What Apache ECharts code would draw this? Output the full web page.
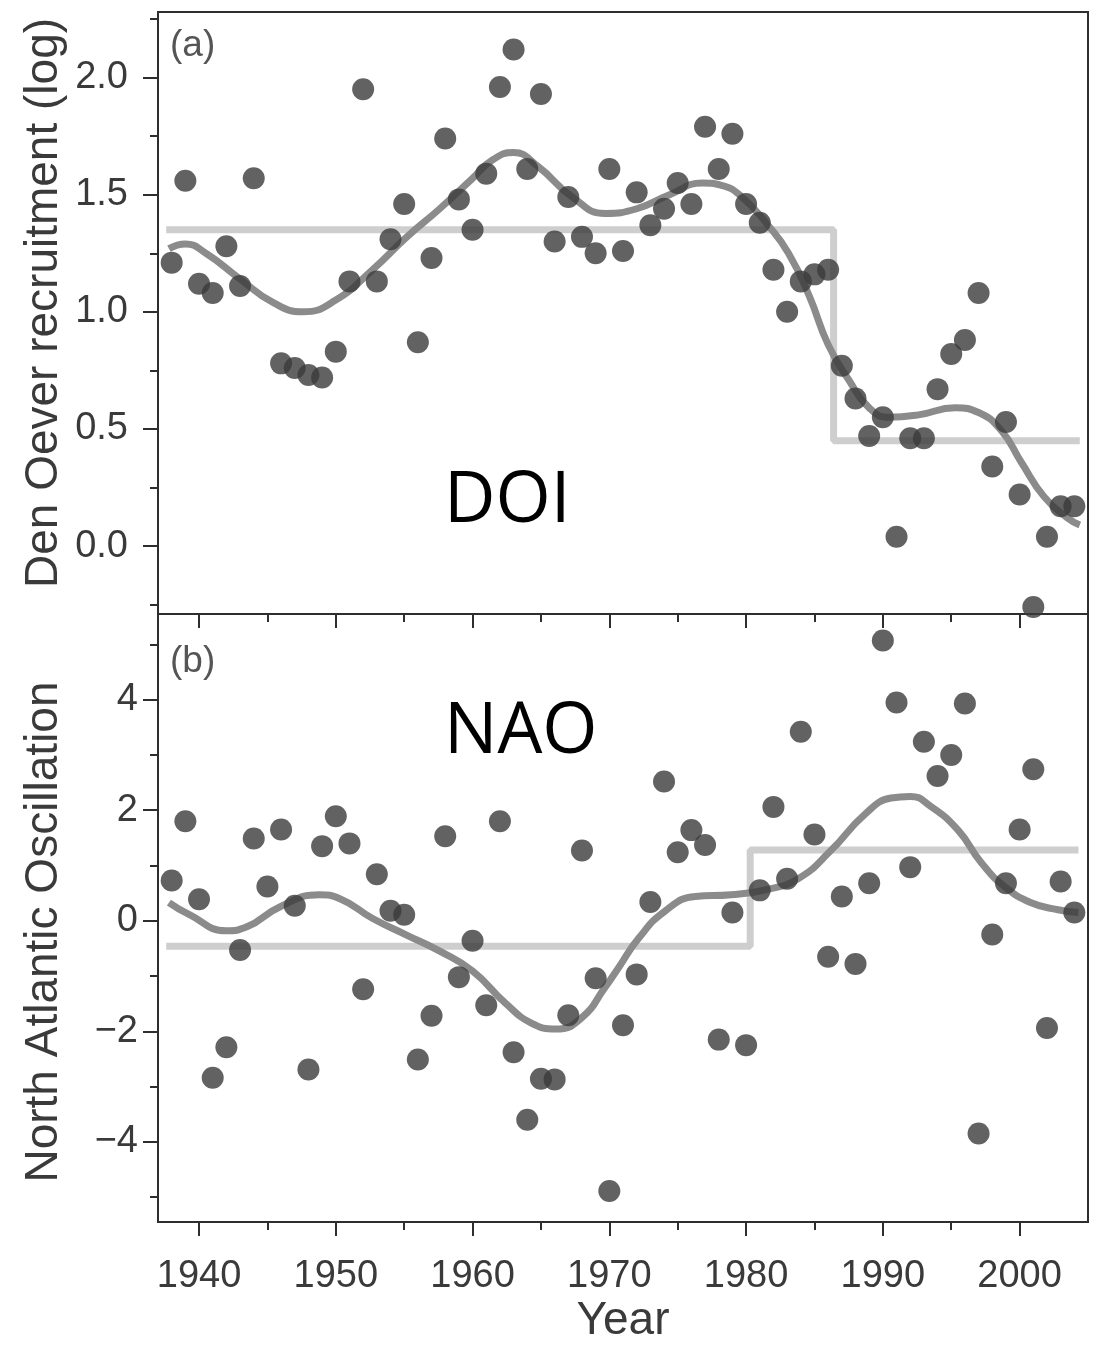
<!DOCTYPE html>
<html>
<head>
<meta charset="utf-8">
<script src="https://cdn.jsdelivr.net/npm/echarts@6/dist/echarts.min.js"></script>
<style>
html, body { margin: 0; padding: 0; background: #ffffff; }
#chart { width: 1104px; height: 1345px; }
</style>
</head>
<body>
<div id="chart"></div>
<script>
// ---------- data ----------
const years = [1938,1939,1940,1941,1942,1943,1944,1945,1946,1947,1948,1949,1950,1951,1952,1953,1954,1955,1956,1957,1958,1959,1960,1961,1962,1963,1964,1965,1966,1967,1968,1969,1970,1971,1972,1973,1974,1975,1976,1977,1978,1979,1980,1981,1982,1983,1984,1985,1986,1987,1988,1989,1990,1991,1992,1993,1994,1995,1996,1997,1998,1999,2000,2001,2002,2003,2004];

const doiRecruitment = [1.21,1.56,1.12,1.08,1.28,1.11,1.57,null,0.78,0.76,0.73,0.72,0.83,1.13,1.95,1.13,1.31,1.46,0.87,1.23,1.74,1.48,1.35,1.59,1.96,2.12,1.61,1.93,1.30,1.49,1.32,1.25,1.61,1.26,1.51,1.37,1.44,1.55,1.46,1.79,1.61,1.76,1.46,1.38,1.18,1.00,1.13,1.16,1.18,0.77,0.63,0.47,0.55,0.04,0.46,0.46,0.67,0.82,0.88,1.08,0.34,0.53,0.22,-0.26,0.04,0.17,0.17];

const naoIndex = [0.73,1.80,0.39,-2.84,-2.29,-0.53,1.49,0.62,1.65,0.27,-2.69,1.35,1.89,1.40,-1.24,0.84,0.18,0.11,-2.51,-1.72,1.53,-1.02,-0.36,-1.53,1.80,-2.38,-3.60,-2.86,-2.87,-1.71,1.27,-1.04,-4.89,-1.89,-0.97,0.34,2.52,1.24,1.64,1.37,-2.15,0.15,-2.25,0.55,2.06,0.76,3.42,1.56,-0.65,0.44,-0.78,0.68,5.07,3.95,0.97,3.24,2.62,3.00,3.93,-3.85,-0.25,0.68,1.65,2.74,-1.94,0.71,0.15];

// smoothed trend curves
const doiSmoothYears  = [1937.8,1939,1940.5,1943,1945.4,1947.6,1950,1952.7,1955.2,1957.6,1960,1961.5,1963,1964.8,1967.3,1969.7,1972,1974.4,1976.8,1978.2,1979.7,1981.6,1983.1,1984.6,1986,1987.5,1989,1990.4,1992.6,1995.3,1997,1998.7,2000.1,2001.8,2003.5,2004.4];
const doiSmoothValues = [1.27,1.29,1.25,1.14,1.04,1.00,1.05,1.18,1.32,1.44,1.57,1.65,1.68,1.62,1.49,1.42,1.44,1.50,1.55,1.54,1.49,1.37,1.25,1.07,0.86,0.71,0.59,0.55,0.56,0.59,0.57,0.49,0.36,0.21,0.12,0.09];

const naoSmoothYears  = [1937.8,1939.3,1942,1943.5,1945.9,1948.8,1950.3,1952.7,1955.1,1957.6,1960,1962.4,1964.3,1966.1,1968,1969.7,1970.7,1972.1,1974.1,1976.3,1978.9,1981.4,1983.8,1986.2,1988.7,1990.6,1992,1993.5,1995.5,1997.2,1998.9,2000.8,2002.8,2004.3];
const naoSmoothValues = [0.33,0.11,-0.18,-0.11,0.25,0.47,0.40,0.04,-0.25,-0.55,-0.91,-1.49,-1.85,-1.96,-1.75,-1.20,-0.84,-0.33,0.18,0.44,0.47,0.56,0.76,1.27,1.93,2.22,2.25,2.07,1.64,1.05,0.62,0.33,0.20,0.15];

// regime (step) means
const doiStepYears  = [1937.6, 1986.4, 1986.4, 2004.4];
const doiStepValues = [1.35, 1.35, 0.45, 0.45];
const naoStepYears  = [1937.6, 1980.3, 1980.3, 2004.3];
const naoStepValues = [-0.46, -0.46, 1.28, 1.28];

// tick positions / labels
const yearTicks      = [1940, 1950, 1960, 1970, 1980, 1990, 2000];
const yearMinorTicks = [1945, 1955, 1965, 1975, 1985, 1995];
const doiTicks       = [0, 0.5, 1.0, 1.5, 2.0];
const doiMinorTicks  = [-0.25, 0.25, 0.75, 1.25, 1.75, 2.25];
const naoTicks       = [-4, -2, 0, 2, 4];
const naoMinorTicks  = [-5, -3, -1, 1, 3, 5];

// ---------- chart ----------
const pairs = (xs, ys) => xs.map((x, i) => [x, ys[i]]).filter(p => p[1] !== null);

const FONT = 'Liberation Sans, Arial, Helvetica, sans-serif';
const AX = { color: '#2e2e2e', width: 2 };
const TXT = '#3a3a3a';

function xAxes(gridIndex, withLabels) {
  return [
    {
      gridIndex, type: 'value', min: 1937, max: 2005, position: 'bottom',
      axisLine: { show: true, onZero: false, lineStyle: AX },
      axisTick: { show: true, customValues: yearTicks, length: 14, lineStyle: AX },
      axisLabel: { show: withLabels, customValues: yearTicks, formatter: v => String(v), margin: 36, fontSize: 38, fontFamily: FONT, color: TXT },
      splitLine: { show: false },
      name: withLabels ? 'Year' : '', nameLocation: 'middle', nameGap: 76,
      nameTextStyle: { fontSize: 46, fontFamily: FONT, color: TXT }
    },
    {
      gridIndex, type: 'value', min: 1937, max: 2005, position: 'bottom',
      axisLine: { show: false, onZero: false },
      axisTick: { show: true, customValues: yearMinorTicks, length: 8, lineStyle: AX },
      axisLabel: { show: false },
      splitLine: { show: false }
    }
  ];
}

function yAxes(gridIndex, min, max, major, minor, fmt, margin) {
  return [
    {
      gridIndex, type: 'value', min, max, position: 'left',
      axisLine: { show: true, onZero: false, lineStyle: AX },
      axisTick: { show: true, customValues: major, length: 15, lineStyle: AX },
      axisLabel: { show: true, customValues: major, formatter: fmt, margin, fontSize: 38, fontFamily: FONT, color: TXT },
      splitLine: { show: false }
    },
    {
      gridIndex, type: 'value', min, max, position: 'left',
      axisLine: { show: false, onZero: false },
      axisTick: { show: true, customValues: minor, length: 8, lineStyle: AX },
      axisLabel: { show: false },
      splitLine: { show: false }
    }
  ];
}

const minusFmt = v => (v < 0 ? '\u2212' + Math.abs(v) : String(v));

function panelSeries(xi, yi, stepX, stepY, smX, smY, pts) {
  return [
    { type: 'line', xAxisIndex: xi, yAxisIndex: yi, data: pairs(stepX, stepY), showSymbol: false,
      lineStyle: { color: '#cecece', width: 7 }, z: 2, silent: true },
    { type: 'line', xAxisIndex: xi, yAxisIndex: yi, data: pairs(smX, smY), showSymbol: false, smooth: 0.5,
      lineStyle: { color: '#8b8b8b', width: 7 }, z: 3, silent: true },
    { type: 'scatter', xAxisIndex: xi, yAxisIndex: yi, data: pairs(years, pts), symbolSize: 22,
      itemStyle: { color: '#3b3b3b' }, z: 4 }
  ];
}

const option = {
  backgroundColor: '#ffffff',
  animation: false,
  grid: [
    { left: 158, top: 12, width: 930, height: 602, show: true, borderColor: '#2e2e2e', borderWidth: 2, backgroundColor: 'transparent' },
    { left: 158, top: 614, width: 930, height: 608, show: true, borderColor: '#2e2e2e', borderWidth: 2, backgroundColor: 'transparent' }
  ],
  xAxis: [...xAxes(0, false), ...xAxes(1, true)],
  yAxis: [
    ...yAxes(0, -0.29, 2.28, doiTicks, doiMinorTicks, v => v.toFixed(1), 30),
    ...yAxes(1, -5.45, 5.55, naoTicks, naoMinorTicks, minusFmt, 20)
  ],
  series: [
    ...panelSeries(0, 0, doiStepYears, doiStepValues, doiSmoothYears, doiSmoothValues, doiRecruitment),
    ...panelSeries(2, 2, naoStepYears, naoStepValues, naoSmoothYears, naoSmoothValues, naoIndex)
  ],
  graphic: [
    { type: 'text', x: 44, y: 303, rotation: Math.PI / 2,
      style: { text: 'Den Oever recruitment (log)', fontSize: 46, fontFamily: FONT, fill: TXT, align: 'center', verticalAlign: 'middle' } },
    { type: 'text', x: 44, y: 932, rotation: Math.PI / 2,
      style: { text: 'North Atlantic Oscillation', fontSize: 46, fontFamily: FONT, fill: TXT, align: 'center', verticalAlign: 'middle' } },
    { type: 'text', x: 170, y: 46,
      style: { text: '(a)', fontSize: 37, fontFamily: FONT, fill: '#555555', align: 'left', verticalAlign: 'middle' } },
    { type: 'text', x: 170, y: 662,
      style: { text: '(b)', fontSize: 37, fontFamily: FONT, fill: '#555555', align: 'left', verticalAlign: 'middle' } },
    { type: 'text', x: 444, y: 502,
      style: { text: 'DOI', fontSize: 71, fontFamily: 'Open Sans, Noto Sans, sans-serif', fill: '#000000', align: 'left', verticalAlign: 'middle' } },
    { type: 'text', x: 444, y: 733,
      style: { text: 'NAO', fontSize: 71, fontFamily: 'Open Sans, Noto Sans, sans-serif', fill: '#000000', align: 'left', verticalAlign: 'middle' } }
  ]
};

const chart = echarts.init(document.getElementById('chart'), null, { renderer: 'canvas' });
chart.setOption(option);
</script>
</body>
</html>
